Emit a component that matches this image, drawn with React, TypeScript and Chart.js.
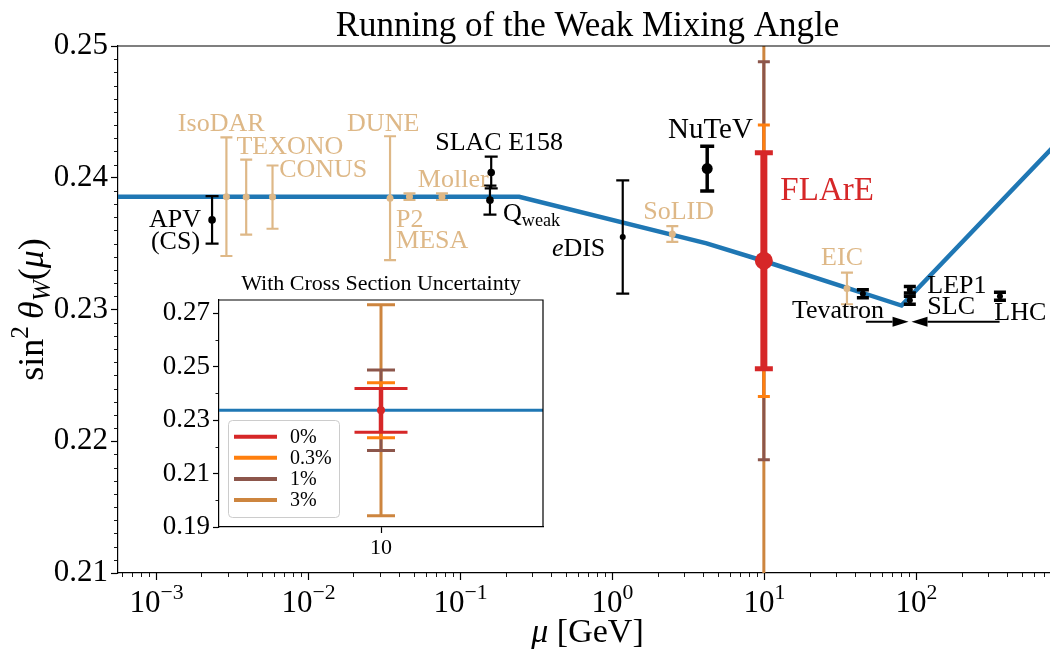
import React, { useEffect, useRef } from 'react';
import { Chart, registerables } from 'chart.js';

Chart.register(...registerables);

const SERIF = '"Liberation Serif", "Times New Roman", serif';
Chart.defaults.font.family = SERIF;

// ---------- data ----------
// Running of sin^2 theta_W (SM prediction)
const curveMu = [5e-4, 0.246, 4.2, 10, 80.4, 1000];
const curveSin = [0.23856, 0.23856, 0.23502, 0.23368, 0.2303, 0.2435];

// Existing measurements
const measNames = ['APV', 'E158', 'Qweak', 'eDIS', 'NuTeV', 'Tevatron', 'LEP1', 'SLC', 'LHC'];
const measMu = [2.35e-3, 0.161, 0.158, 1.18, 4.24, 44.8, 91.19, 91.19, 357];
const measSin = [0.2368, 0.2404, 0.2383, 0.2355, 0.2407, 0.2312, 0.2315, 0.2307, 0.231];
const measErr = [0.0018, 0.0012, 0.0011, 0.0043, 0.0017, 0.0003, 0.00025, 0.0003, 0.0003];

// Future experiments
const futNames = ['IsoDAR', 'TEXONO', 'CONUS', 'DUNE', 'P2', 'MOLLER', 'SoLID', 'EIC'];
const futMu = [2.92e-3, 3.94e-3, 5.87e-3, 0.0348, 0.0467, 0.0764, 2.5, 35.2];
const futSin = [0.23856, 0.23853, 0.23853, 0.23845, 0.23856, 0.23856, 0.23573, 0.2316];
const futErr = [0.0045, 0.00285, 0.0024, 0.0047, 0.00025, 0.00025, 0.0006, 0.0012];

// FLArE projection with cross-section uncertainty
const flareMu = 10;
const flareSin = 0.2337;
const flareLabels = ['0%', '0.3%', '1%', '3%'];
const flareErr = [0.0082, 0.0103, 0.0151, 0.0395];

// ticks
const yTicksMain = [0.21, 0.22, 0.23, 0.24, 0.25];
const xDecades = [-4, -3, -2, -1, 0, 1, 2, 3];
const yTicksInset = [0.19, 0.21, 0.23, 0.25, 0.27];
const xTicksInset = [10];

// ---------- styles ----------
const TAN = '#deb887';
const BLUE = '#1f77b4';
const FLARE_COLORS = ['#d62728', '#ff7f0e', '#8c564b', '#cd853f'];

type Seg = { t: string; italic?: boolean; sub?: boolean; sup?: boolean };
type Label = { segs: Seg[]; mu: number; y: number; color: string; size: number; align?: 'left' | 'right' | 'center' };

const LABELS: Label[] = [
  { segs: [{ t: 'IsoDAR' }], mu: 1.4e-3, y: 0.24357, color: TAN, size: 26 },
  { segs: [{ t: 'TEXONO' }], mu: 3.4e-3, y: 0.2418, color: TAN, size: 26 },
  { segs: [{ t: 'CONUS' }], mu: 6.49e-3, y: 0.24006, color: TAN, size: 26 },
  { segs: [{ t: 'DUNE' }], mu: 0.01816, y: 0.24357, color: TAN, size: 26 },
  { segs: [{ t: 'Moller' }], mu: 0.053, y: 0.23932, color: TAN, size: 26 },
  { segs: [{ t: 'P2' }], mu: 0.0381, y: 0.23624, color: TAN, size: 26 },
  { segs: [{ t: 'MESA' }], mu: 0.0381, y: 0.23464, color: TAN, size: 26 },
  { segs: [{ t: 'APV' }], mu: 1.99e-3, y: 0.23628, color: '#000', size: 26, align: 'right' },
  { segs: [{ t: '(CS)' }], mu: 1.96e-3, y: 0.23459, color: '#000', size: 26, align: 'right' },
  { segs: [{ t: 'SLAC E158' }], mu: 0.069, y: 0.24211, color: '#000', size: 26 },
  { segs: [{ t: 'Q' }, { t: 'weak', sub: true }], mu: 0.1927, y: 0.23674, color: '#000', size: 26 },
  { segs: [{ t: 'e', italic: true }, { t: 'DIS' }], mu: 0.4036, y: 0.23406, color: '#000', size: 26 },
  { segs: [{ t: 'SoLID' }], mu: 1.61, y: 0.23685, color: TAN, size: 26 },
  { segs: [{ t: 'NuTeV' }], mu: 2.34, y: 0.24304, color: '#000', size: 29 },
  { segs: [{ t: 'FLArE' }], mu: 12.84, y: 0.23831, color: FLARE_COLORS[0], size: 33 },
  { segs: [{ t: 'EIC' }], mu: 23.8, y: 0.23338, color: TAN, size: 26 },
  { segs: [{ t: 'Tevatron' }], mu: 15.3, y: 0.22933, color: '#000', size: 26 },
  { segs: [{ t: 'LEP1' }], mu: 118.8, y: 0.23128, color: '#000', size: 26 },
  { segs: [{ t: 'SLC' }], mu: 118.8, y: 0.22966, color: '#000', size: 26 },
  { segs: [{ t: 'LHC' }], mu: 328, y: 0.2292, color: '#000', size: 26 },
];

const ARROWS = [
  { from: [46.9, 0.22907], to: [89.5, 0.22907] },
  { from: [355, 0.22907], to: [93.5, 0.22907] },
];

type EB = { color: string; lw: number; capW: number; capT: number };

const measStyle = (name: string): EB =>
  name === 'NuTeV'
    ? { color: '#000', lw: 3.5, capW: 14, capT: 3.5 }
    : ['Tevatron', 'LEP1', 'SLC', 'LHC'].includes(name)
    ? { color: '#000', lw: 2.5, capW: 12, capT: 3.5 }
    : { color: '#000', lw: 2.2, capW: 13, capT: 2.2 };
const measRadius = (name: string) =>
  name === 'NuTeV' ? 5.5 : ['Tevatron', 'LEP1', 'SLC', 'LHC', 'eDIS'].includes(name) ? 3 : 3.8;

const MAIN_FLARE_STYLE: EB[] = [
  { color: FLARE_COLORS[0], lw: 7, capW: 18, capT: 5 },
  { color: FLARE_COLORS[1], lw: 3, capW: 12, capT: 3 },
  { color: FLARE_COLORS[2], lw: 3, capW: 12, capT: 3 },
  { color: FLARE_COLORS[3], lw: 3, capW: 12, capT: 3 },
];
const INSET_FLARE_STYLE: EB[] = [
  { color: FLARE_COLORS[0], lw: 4.5, capW: 53, capT: 3 },
  { color: FLARE_COLORS[1], lw: 3, capW: 28, capT: 3 },
  { color: FLARE_COLORS[2], lw: 3, capW: 28, capT: 3 },
  { color: FLARE_COLORS[3], lw: 3, capW: 28, capT: 3 },
];

// ---------- helpers ----------
const fontStr = (size: number, italic = false) => `${italic ? 'italic ' : ''}${size}px ${SERIF}`;

function drawRich(
  ctx: CanvasRenderingContext2D,
  segs: Seg[],
  x: number,
  y: number,
  size: number,
  color: string,
  align: 'left' | 'right' | 'center' = 'left'
) {
  const parts = segs.map((s) => {
    const sz = s.sub || s.sup ? size * 0.7 : size;
    ctx.font = fontStr(sz, s.italic);
    return { s, sz, w: ctx.measureText(s.t).width };
  });
  const total = parts.reduce((a, p) => a + p.w, 0);
  let cx = align === 'left' ? x : align === 'right' ? x - total : x - total / 2;
  ctx.fillStyle = color;
  ctx.textAlign = 'left';
  ctx.textBaseline = 'alphabetic';
  for (const p of parts) {
    ctx.font = fontStr(p.sz, p.s.italic);
    const dy = p.s.sub ? size * 0.2 : p.s.sup ? -size * 0.42 : 0;
    ctx.fillText(p.s.t, cx, y + dy);
    cx += p.w;
  }
}

const errorBarPlugin = {
  id: 'errorBars',
  beforeDatasetDraw(chart: any, args: any) {
    const ds = chart.data.datasets[args.index];
    if (!ds.errors) return;
    const ctx: CanvasRenderingContext2D = chart.ctx;
    const xs = chart.scales.x;
    const ys = chart.scales.y;
    const a = chart.chartArea;
    ctx.save();
    ctx.beginPath();
    ctx.rect(a.left, a.top, a.right - a.left, a.bottom - a.top);
    ctx.clip();
    ds.data.forEach((p: any, i: number) => {
      const st: EB = Array.isArray(ds.errStyle) ? ds.errStyle[i] : ds.errStyle;
      const err = ds.errors[i];
      const x = xs.getPixelForValue(p.x);
      const yt = ys.getPixelForValue(p.y + err);
      const yb = ys.getPixelForValue(p.y - err);
      ctx.strokeStyle = st.color;
      ctx.lineCap = 'butt';
      ctx.lineWidth = st.lw;
      ctx.beginPath();
      ctx.moveTo(x, yt);
      ctx.lineTo(x, yb);
      ctx.stroke();
      ctx.lineWidth = st.capT;
      ctx.beginPath();
      ctx.moveTo(x - st.capW / 2, yt);
      ctx.lineTo(x + st.capW / 2, yt);
      ctx.moveTo(x - st.capW / 2, yb);
      ctx.lineTo(x + st.capW / 2, yb);
      ctx.stroke();
    });
    ctx.restore();
  },
};

const mainDecor = {
  id: 'mainDecor',
  afterDraw(chart: any) {
    const ctx: CanvasRenderingContext2D = chart.ctx;
    const xs = chart.scales.x;
    const ys = chart.scales.y;
    const a = chart.chartArea;
    ctx.save();
    // top spine
    ctx.strokeStyle = '#000';
    ctx.lineWidth = 1.2;
    ctx.beginPath();
    ctx.moveTo(a.left, a.top);
    ctx.lineTo(a.right, a.top);
    ctx.stroke();
    // x ticks (log, major + minor) and labels
    for (const n of xDecades) {
      for (let k = 1; k <= 9; k++) {
        const v = k * Math.pow(10, n);
        if (v < xs.min || v > xs.max) continue;
        const px = Math.round(xs.getPixelForValue(v)) + 0.5;
        const len = k === 1 ? 7 : 4;
        ctx.lineWidth = k === 1 ? 1.2 : 0.9;
        ctx.beginPath();
        ctx.moveTo(px, a.bottom);
        ctx.lineTo(px, a.bottom + len);
        ctx.stroke();
        if (k === 1) {
          const exp = n < 0 ? '\u2212' + Math.abs(n) : String(n);
          drawRich(ctx, [{ t: '10' }, { t: exp, sup: true }], px, 612, 31, '#000', 'center');
        }
      }
    }
    // y minor ticks
    ctx.lineWidth = 0.9;
    for (let k = 210; k <= 250; k++) {
      if (k % 10 === 0) continue;
      const py = Math.round(ys.getPixelForValue(k / 1000)) + 0.5;
      ctx.beginPath();
      ctx.moveTo(a.left, py);
      ctx.lineTo(a.left - 4, py);
      ctx.stroke();
    }
    // title
    ctx.font = fontStr(35);
    ctx.fillStyle = '#000';
    ctx.textAlign = 'center';
    ctx.textBaseline = 'alphabetic';
    ctx.fillText('Running of the Weak Mixing Angle', (a.left + a.right) / 2, 36);
    // axis labels
    drawRich(ctx, [{ t: '\u03bc', italic: true }, { t: ' [GeV]' }], (a.left + a.right) / 2, 642, 34, '#000', 'center');
    ctx.save();
    ctx.translate(43, (a.top + a.bottom) / 2);
    ctx.rotate(-Math.PI / 2);
    drawRich(
      ctx,
      [
        { t: 'sin' },
        { t: '2', sup: true },
        { t: '\u2009' },
        { t: '\u03b8', italic: true },
        { t: 'W', italic: true, sub: true },
        { t: '(' },
        { t: '\u03bc', italic: true },
        { t: ')' },
      ],
      0,
      0,
      36,
      '#000',
      'center'
    );
    ctx.restore();
    // annotations
    for (const l of LABELS) {
      drawRich(ctx, l.segs, xs.getPixelForValue(l.mu), ys.getPixelForValue(l.y), l.size, l.color, l.align || 'left');
    }
    // arrows
    ctx.strokeStyle = '#000';
    ctx.fillStyle = '#000';
    for (const ar of ARROWS) {
      const x0 = xs.getPixelForValue(ar.from[0]);
      const y0 = ys.getPixelForValue(ar.from[1]);
      const x1 = xs.getPixelForValue(ar.to[0]);
      const y1 = ys.getPixelForValue(ar.to[1]);
      const dir = Math.sign(x1 - x0);
      const hl = 16;
      ctx.lineWidth = 2;
      ctx.beginPath();
      ctx.moveTo(x0, y0);
      ctx.lineTo(x1 - dir * hl, y1);
      ctx.stroke();
      ctx.beginPath();
      ctx.moveTo(x1, y1);
      ctx.lineTo(x1 - dir * hl, y1 - 5);
      ctx.lineTo(x1 - dir * hl, y1 + 5);
      ctx.closePath();
      ctx.fill();
    }
    ctx.restore();
  },
};

const insetDecor = {
  id: 'insetDecor',
  afterDraw(chart: any) {
    const ctx: CanvasRenderingContext2D = chart.ctx;
    const ys = chart.scales.y;
    const a = chart.chartArea;
    ctx.save();
    ctx.strokeStyle = '#000';
    ctx.lineWidth = 1.2;
    ctx.beginPath();
    ctx.moveTo(a.left, a.top);
    ctx.lineTo(a.right, a.top);
    ctx.lineTo(a.right, a.bottom);
    ctx.stroke();
    // minor y ticks
    ctx.lineWidth = 0.9;
    for (let k = 190; k <= 275; k += 10) {
      if ((k / 10) % 2 === 1) continue;
      const v = k / 1000;
      if (v < ys.min || v > ys.max) continue;
      const py = Math.round(ys.getPixelForValue(v)) + 0.5;
      ctx.beginPath();
      ctx.moveTo(a.left, py);
      ctx.lineTo(a.left - 3.5, py);
      ctx.stroke();
    }
    // title
    ctx.font = fontStr(22);
    ctx.fillStyle = '#000';
    ctx.textAlign = 'center';
    ctx.textBaseline = 'alphabetic';
    ctx.fillText('With Cross Section Uncertainty', (a.left + a.right) / 2, a.top - 10);
    // legend
    const bx = a.left + 9;
    const bw = 111;
    const bh = 97;
    const by = a.bottom - 10 - bh;
    ctx.fillStyle = 'rgba(255,255,255,0.8)';
    ctx.strokeStyle = '#cccccc';
    ctx.lineWidth = 1;
    ctx.beginPath();
    (ctx as any).roundRect(bx + 0.5, by + 0.5, bw, bh, 4);
    ctx.fill();
    ctx.stroke();
    flareLabels.forEach((lab, i) => {
      const ry = by + 16.7 + i * 21.1;
      ctx.strokeStyle = FLARE_COLORS[i];
      ctx.lineWidth = 4;
      ctx.beginPath();
      ctx.moveTo(bx + 6, ry);
      ctx.lineTo(bx + 49, ry);
      ctx.stroke();
      ctx.font = fontStr(20);
      ctx.fillStyle = '#000';
      ctx.textAlign = 'left';
      ctx.textBaseline = 'middle';
      ctx.fillText(lab, bx + 62, ry + 1);
    });
    ctx.restore();
  },
};

function xy(xsArr: number[], ysArr: number[]) {
  return xsArr.map((x, i) => ({ x, y: ysArr[i] }));
}

function flareDatasets(styles: EB[], redRadius: number) {
  // drawn bottom-up: 3% first, 0% on top
  return flareLabels.map((lab, i) => ({
    type: 'scatter' as const,
    label: lab,
    data: [{ x: flareMu, y: flareSin }],
    errors: [flareErr[i]],
    errStyle: styles[i],
    pointRadius: i === 0 ? redRadius : 0,
    pointBackgroundColor: FLARE_COLORS[i],
    pointBorderWidth: 0,
    order: 10 + i,
  }));
}

export default function App() {
  const mainRef = useRef<HTMLCanvasElement>(null);
  const insetRef = useRef<HTMLCanvasElement>(null);

  useEffect(() => {
    const main = new Chart(mainRef.current as HTMLCanvasElement, {
      type: 'scatter',
      data: {
        datasets: [
          {
            type: 'line',
            label: 'SM running',
            data: xy(curveMu, curveSin),
            borderColor: BLUE,
            borderWidth: 4.5,
            pointRadius: 0,
            showLine: true,
            tension: 0,
            clip: 0,
            order: 100,
          } as any,
          {
            label: 'Future',
            data: xy(futMu, futSin),
            errors: futErr,
            errStyle: futNames.map(() => ({ color: TAN, lw: 2.2, capW: 12, capT: 2.2 })),
            pointRadius: 3.5,
            pointBackgroundColor: TAN,
            pointBorderWidth: 0,
            order: 50,
          } as any,
          {
            label: 'Measurements',
            data: xy(measMu, measSin),
            errors: measErr,
            errStyle: measNames.map(measStyle),
            pointRadius: measNames.map(measRadius),
            pointBackgroundColor: '#000',
            pointBorderWidth: 0,
            order: 40,
          } as any,
          ...(flareDatasets(MAIN_FLARE_STYLE, 9) as any[]),
        ],
      },
      options: {
        animation: false,
        responsive: false,
        devicePixelRatio: 1,
        events: [],
        layout: { padding: { top: 46, left: 0, right: 0, bottom: 0 } },
        plugins: { legend: { display: false }, tooltip: { enabled: false }, title: { display: false } },
        scales: {
          x: {
            type: 'logarithmic',
            min: 5.655e-4,
            max: 847,
            ticks: { display: false },
            grid: { display: false },
            border: { display: true, color: '#000', width: 1.2 },
            afterFit: (s: any) => {
              s.height = 83;
            },
          },
          y: {
            type: 'linear',
            min: 0.21,
            max: 0.25,
            afterBuildTicks: (s: any) => {
              s.ticks = yTicksMain.map((v) => ({ value: v }));
            },
            ticks: {
              font: { family: SERIF, size: 31 },
              color: '#000',
              padding: 3,
              callback: (v: any) => Number(v).toFixed(2),
            },
            grid: { display: true, drawOnChartArea: false, drawTicks: true, tickLength: 7, tickWidth: 1.2, tickColor: '#000' },
            border: { display: true, color: '#000', width: 1.2 },
            afterFit: (s: any) => {
              s.width = 118;
            },
          },
        },
      } as any,
      plugins: [errorBarPlugin, mainDecor],
    });

    const inset = new Chart(insetRef.current as HTMLCanvasElement, {
      type: 'scatter',
      data: {
        datasets: [
          {
            type: 'line',
            label: 'SM',
            data: [
              { x: 5, y: curveSin[3] },
              { x: 15, y: curveSin[3] },
            ],
            borderColor: BLUE,
            borderWidth: 3,
            pointRadius: 0,
            showLine: true,
            clip: 0,
            order: 100,
          } as any,
          ...(flareDatasets(INSET_FLARE_STYLE, 4) as any[]),
        ],
      },
      options: {
        animation: false,
        responsive: false,
        devicePixelRatio: 1,
        events: [],
        layout: { padding: { top: 38, right: 17, left: 0, bottom: 0 } },
        plugins: { legend: { display: false }, tooltip: { enabled: false }, title: { display: false } },
        scales: {
          x: {
            type: 'linear',
            min: 5,
            max: 15,
            afterBuildTicks: (s: any) => {
              s.ticks = xTicksInset.map((v) => ({ value: v }));
            },
            ticks: { font: { family: SERIF, size: 22 }, color: '#000', padding: 2, maxRotation: 0 },
            grid: { display: true, drawOnChartArea: false, drawTicks: true, tickLength: 6, tickWidth: 1.2, tickColor: '#000' },
            border: { display: true, color: '#000', width: 1.2 },
            afterFit: (s: any) => {
              s.height = 35;
            },
          },
          y: {
            type: 'linear',
            min: 0.19,
            max: 0.275,
            afterBuildTicks: (s: any) => {
              s.ticks = yTicksInset.map((v) => ({ value: v }));
            },
            ticks: {
              font: { family: SERIF, size: 27 },
              color: '#000',
              padding: 3,
              callback: (v: any) => Number(v).toFixed(2),
            },
            grid: { display: true, drawOnChartArea: false, drawTicks: true, tickLength: 6, tickWidth: 1.2, tickColor: '#000' },
            border: { display: true, color: '#000', width: 1.2 },
            afterFit: (s: any) => {
              s.width = 79;
            },
          },
        },
      } as any,
      plugins: [errorBarPlugin, insetDecor],
    });

    return () => {
      main.destroy();
      inset.destroy();
    };
  }, []);

  return (
    <div
      style={{
        position: 'fixed',
        left: 0,
        top: 0,
        width: 1050,
        height: 656,
        overflow: 'hidden',
        background: '#fff',
      }}
    >
      <div style={{ position: 'absolute', left: 0, top: 0, width: 1066, height: 656 }}>
        <canvas ref={mainRef} width={1066} height={656} style={{ display: 'block', width: 1066, height: 656 }} />
      </div>
      <div style={{ position: 'absolute', left: 140, top: 262, width: 420, height: 300 }}>
        <canvas ref={insetRef} width={420} height={300} style={{ display: 'block', width: 420, height: 300 }} />
      </div>
    </div>
  );
}
